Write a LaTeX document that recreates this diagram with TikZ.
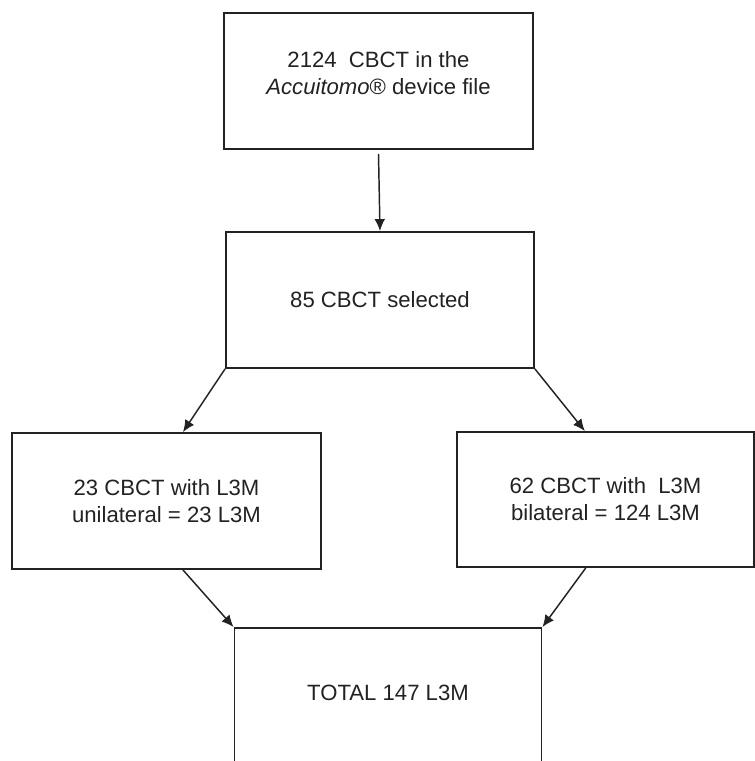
\documentclass[tikz,border=0pt]{standalone}
\usepackage{fontspec}
\setmainfont{Liberation Sans}
\usetikzlibrary{calc,arrows.meta}
\definecolor{ink}{HTML}{222222}

\begin{document}
\begin{tikzpicture}[x=0.75pt,y=-0.75pt,
    box/.style={draw=ink,line width=1.4pt,inner sep=0pt,align=center,
      minimum height=102pt,text=ink,font=\fontsize{16.6}{20.3}\selectfont},
    txt/.style={inner sep=0pt,align=center,text=ink,font=\fontsize{16.6}{20.3}\selectfont},
    flow/.style={draw=ink,line width=1.1pt,-{Latex[length=9pt,width=8pt]}}]
  \useasboundingbox (0,0) rectangle (755,761);

  \node[box,minimum width=231.75pt] (file) at (378.5,81) {};
  \node[txt] (filetxt) at (378.5,73.5) {2124~ CBCT in the\\ \textit{Accuitomo}® device file};
  \node[box,minimum width=231pt] (sel) at (380,300) {85 CBCT selected};
  \node[box,minimum width=231.75pt] (uni) at (166.5,501) {23 CBCT with L3M\\unilateral = 23 L3M};
  \node[box,minimum width=222.75pt,minimum height=101.25pt] (bil) at (605.5,499.5) {62 CBCT with~ L3M\\bilateral = 124 L3M};
  %bottom edge lies below the page
  \node[box,minimum width=230.25pt,minimum height=103.5pt] (tot) at (388,697) {};
  \node[txt] (tottxt) at (388,693) {TOTAL 147 L3M};

  \coordinate (uniN) at ($(uni.north west)!.553!(uni.north east)$);
  \coordinate (uniS) at ($(uni.south west)!.553!(uni.south east)$);
  \coordinate (bilN) at ($(bil.north west)!.431!(bil.north east)$);
  \coordinate (bilS) at ($(bil.south west)!.434!(bil.south east)$);

  \draw[flow] (file.south) ++(0,4) coordinate (fileS) -- (sel.north);
  \draw[flow] (sel.south west) -- (uniN);
  \draw[flow] (sel.south east) -- (bilN);
  \draw[flow] (uniS) -- (tot.north west);
  \draw[flow] (bilS) -- (tot.north east);
\end{tikzpicture}
\end{document}
